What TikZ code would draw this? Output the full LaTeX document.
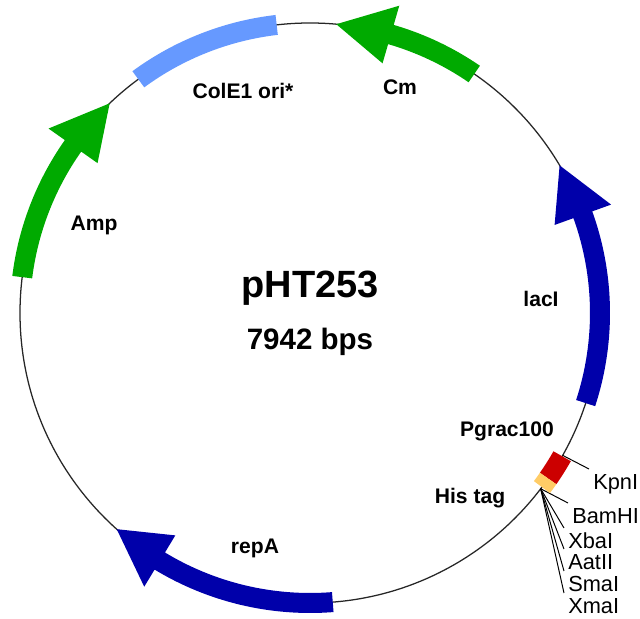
\documentclass[tikz,border=0pt]{standalone}
\usepackage{fontspec}
\setmainfont{Liberation Sans}
\definecolor{cmgreen}{RGB}{0,170,0}
\definecolor{geneblue}{RGB}{0,0,170}
\definecolor{oriblue}{RGB}{102,153,255}
\definecolor{promred}{RGB}{204,0,0}
\definecolor{tagorange}{RGB}{255,204,102}

\begin{document}
\begin{tikzpicture}[x=0.025cm,y=0.025cm,
  feature/.style={font=\bfseries\fontsize{15}{18}\selectfont,anchor=base},
  site/.style={font=\fontsize{15.5}{18}\selectfont,anchor=base west,inner sep=0pt}]
  \useasboundingbox (0,0) rectangle (640,619);
  \begin{scope}[shift={(310,306)}]
    \draw[line width=0.9pt,black!85] (0,0) circle[radius=290];
    \coordinate (kpn) at (-29.4:290);
    \coordinate (mcs) at (-37.3:290);
    \fill[cmgreen] (55.5:280) arc[start angle=55.5,end angle=73.8,radius=280]
      -- (73.8:260) -- (84.8:290) -- (73.8:320) -- (73.8:300)
      arc[start angle=73.8,end angle=55.5,radius=300] -- cycle;
    \fill[cmgreen] (172.9:280) arc[start angle=172.9,end angle=144.8,radius=280]
      -- (144.8:260) -- (133.7:290) -- (144.8:320) -- (144.8:300)
      arc[start angle=144.8,end angle=172.9,radius=300] -- cycle;
    \fill[geneblue] (-18.1:280) arc[start angle=-18.1,end angle=19.8,radius=280]
      -- (19.8:260) -- (30.6:290) -- (19.8:320) -- (19.8:300)
      arc[start angle=19.8,end angle=-18.1,radius=300] -- cycle;
    \fill[geneblue] (274.5:280) arc[start angle=274.5,end angle=238.8,radius=280]
      -- (238.8:260) -- (228.2:290) -- (238.8:320) -- (238.8:300)
      arc[start angle=238.8,end angle=274.5,radius=300] -- cycle;
    \fill[oriblue] (96.6:280) arc[start angle=96.6,end angle=126.3,radius=280]
      -- (126.3:300) arc[start angle=126.3,end angle=96.6,radius=300] -- cycle;
  \end{scope}

  \node[feature] (ori) at (243,520) {ColE1 ori*};
  \node[feature] (cm) at (400,524) {Cm};
  \node[feature] (amp) at (94,388) {Amp};
  \node[feature] (lacI) at (541,312) {lacI};
  \node[feature] (pgrac) at (507,182) {Pgrac100};
  \node[feature] (his) at (470,115) {His tag};
  \node[feature] (repA) at (255,65) {repA};
  \node[font=\bfseries\fontsize{27}{32}\selectfont,anchor=base] (name) at (310,321) {pHT253};
  \node[font=\bfseries\fontsize{21}{25}\selectfont,anchor=base] (size) at (310,269) {7942 bps};

  \node[site] (KpnI) at (593,129) {KpnI};
  \node[site] (BamHI) at (572,95) {BamHI};
  \node[site] (XbaI) at (568,70) {XbaI};
  \node[site] (AatII) at (568,49) {AatII};
  \node[site] (SmaI) at (568,27) {SmaI};
  \node[site] (XmaI) at (568,5) {XmaI};

  \draw[line width=0.7pt] (kpn) -- ([shift={(-4,21)}]KpnI.base west);
  \draw[line width=0.7pt] (mcs) -- ([shift={(-4,21)}]BamHI.base west);
  \draw[line width=0.7pt] (mcs) -- ([shift={(-4,21)}]XbaI.base west);
  \draw[line width=0.7pt] (mcs) -- ([shift={(-4,21)}]AatII.base west);
  \draw[line width=0.7pt] (mcs) -- ([shift={(-4,21)}]SmaI.base west);
  \draw[line width=0.7pt] (mcs) -- ([shift={(-4,21)}]XmaI.base west);

  \begin{scope}[shift={(310,306)}]
    \fill[promred] (-29.6:280) arc[start angle=-29.6,end angle=-34.8,radius=280]
      -- (-34.8:300) arc[start angle=-34.8,end angle=-29.6,radius=300] -- cycle;
    \fill[tagorange] (-34.8:280) arc[start angle=-34.8,end angle=-36.9,radius=280]
      -- (-36.9:300) arc[start angle=-36.9,end angle=-34.8,radius=300] -- cycle;
  \end{scope}
\end{tikzpicture}
\end{document}
